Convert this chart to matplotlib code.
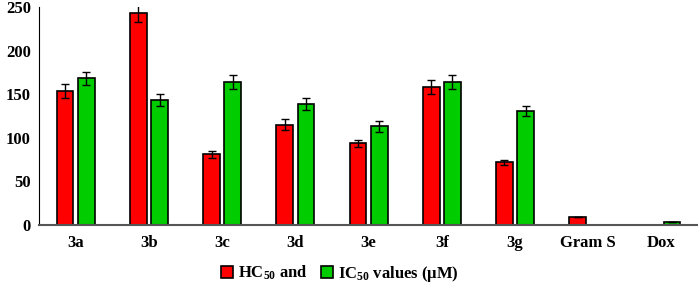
import matplotlib
matplotlib.use('Agg')
import matplotlib.pyplot as plt
import numpy as np

plt.rcParams['font.family'] = 'Liberation Serif'
plt.rcParams['font.weight'] = 'bold'
plt.rcParams['mathtext.fontset'] = 'custom'
plt.rcParams['mathtext.rm'] = 'Liberation Serif:bold'
plt.rcParams['mathtext.bf'] = 'Liberation Serif:bold'
plt.rcParams['mathtext.default'] = 'bf'

# data
compounds = ["3a", "3b", "3c", "3d", "3e", "3f", "3g", "Gram S", "Dox"]
hc50 = [154, 243, 81, 115, 94, 158, 72, 9.5, 0]
hc50_err = [8, 10, 4, 6, 4, 8, 3, 0, 0]
ic50 = [168, 143, 164, 139, 113, 164, 131, 0, 3.4]
ic50_err = [8, 7, 8, 7, 6, 8, 6, 0, 0]

fig = plt.figure(figsize=(6.98, 2.85), dpi=100)
ax = fig.add_axes([0.056, 0.2105, 0.944, 0.765])

x = np.arange(len(compounds))
w = 0.23
ax.bar(x - 0.145, hc50, w, color="#ff0000", edgecolor="black", linewidth=1.2,
       yerr=hc50_err, capsize=3, error_kw=dict(elinewidth=1, capthick=1),
       label=r"HC$_{50}$ and")
ax.bar(x + 0.145, ic50, w, color="#00cc00", edgecolor="black", linewidth=1.2,
       yerr=ic50_err, capsize=3, error_kw=dict(elinewidth=1, capthick=1),
       label=r"IC$_{50}$ values (μM)")

ax.set_xlim(-0.5, len(compounds) - 0.5)
ax.set_ylim(0, 250)
ax.set_yticks([0, 50, 100, 150, 200, 250])
ax.set_xticks(x)
ax.set_xticklabels(compounds)
ax.tick_params(axis='both', length=0, labelsize=12)
ax.tick_params(axis='x', pad=7)
ax.tick_params(axis='y', pad=6)
ax.spines['top'].set_visible(False)
ax.spines['right'].set_visible(False)
ax.spines['bottom'].set_color('#555555')
ax.spines['bottom'].set_linewidth(1.5)

fig.legend(loc='center', bbox_to_anchor=(0.487, 0.04), ncol=2, frameon=False,
           fontsize=12, handlelength=0.7, handleheight=0.7, columnspacing=0.8,
           handletextpad=0.3)

fig.savefig("out.png", dpi=100)
